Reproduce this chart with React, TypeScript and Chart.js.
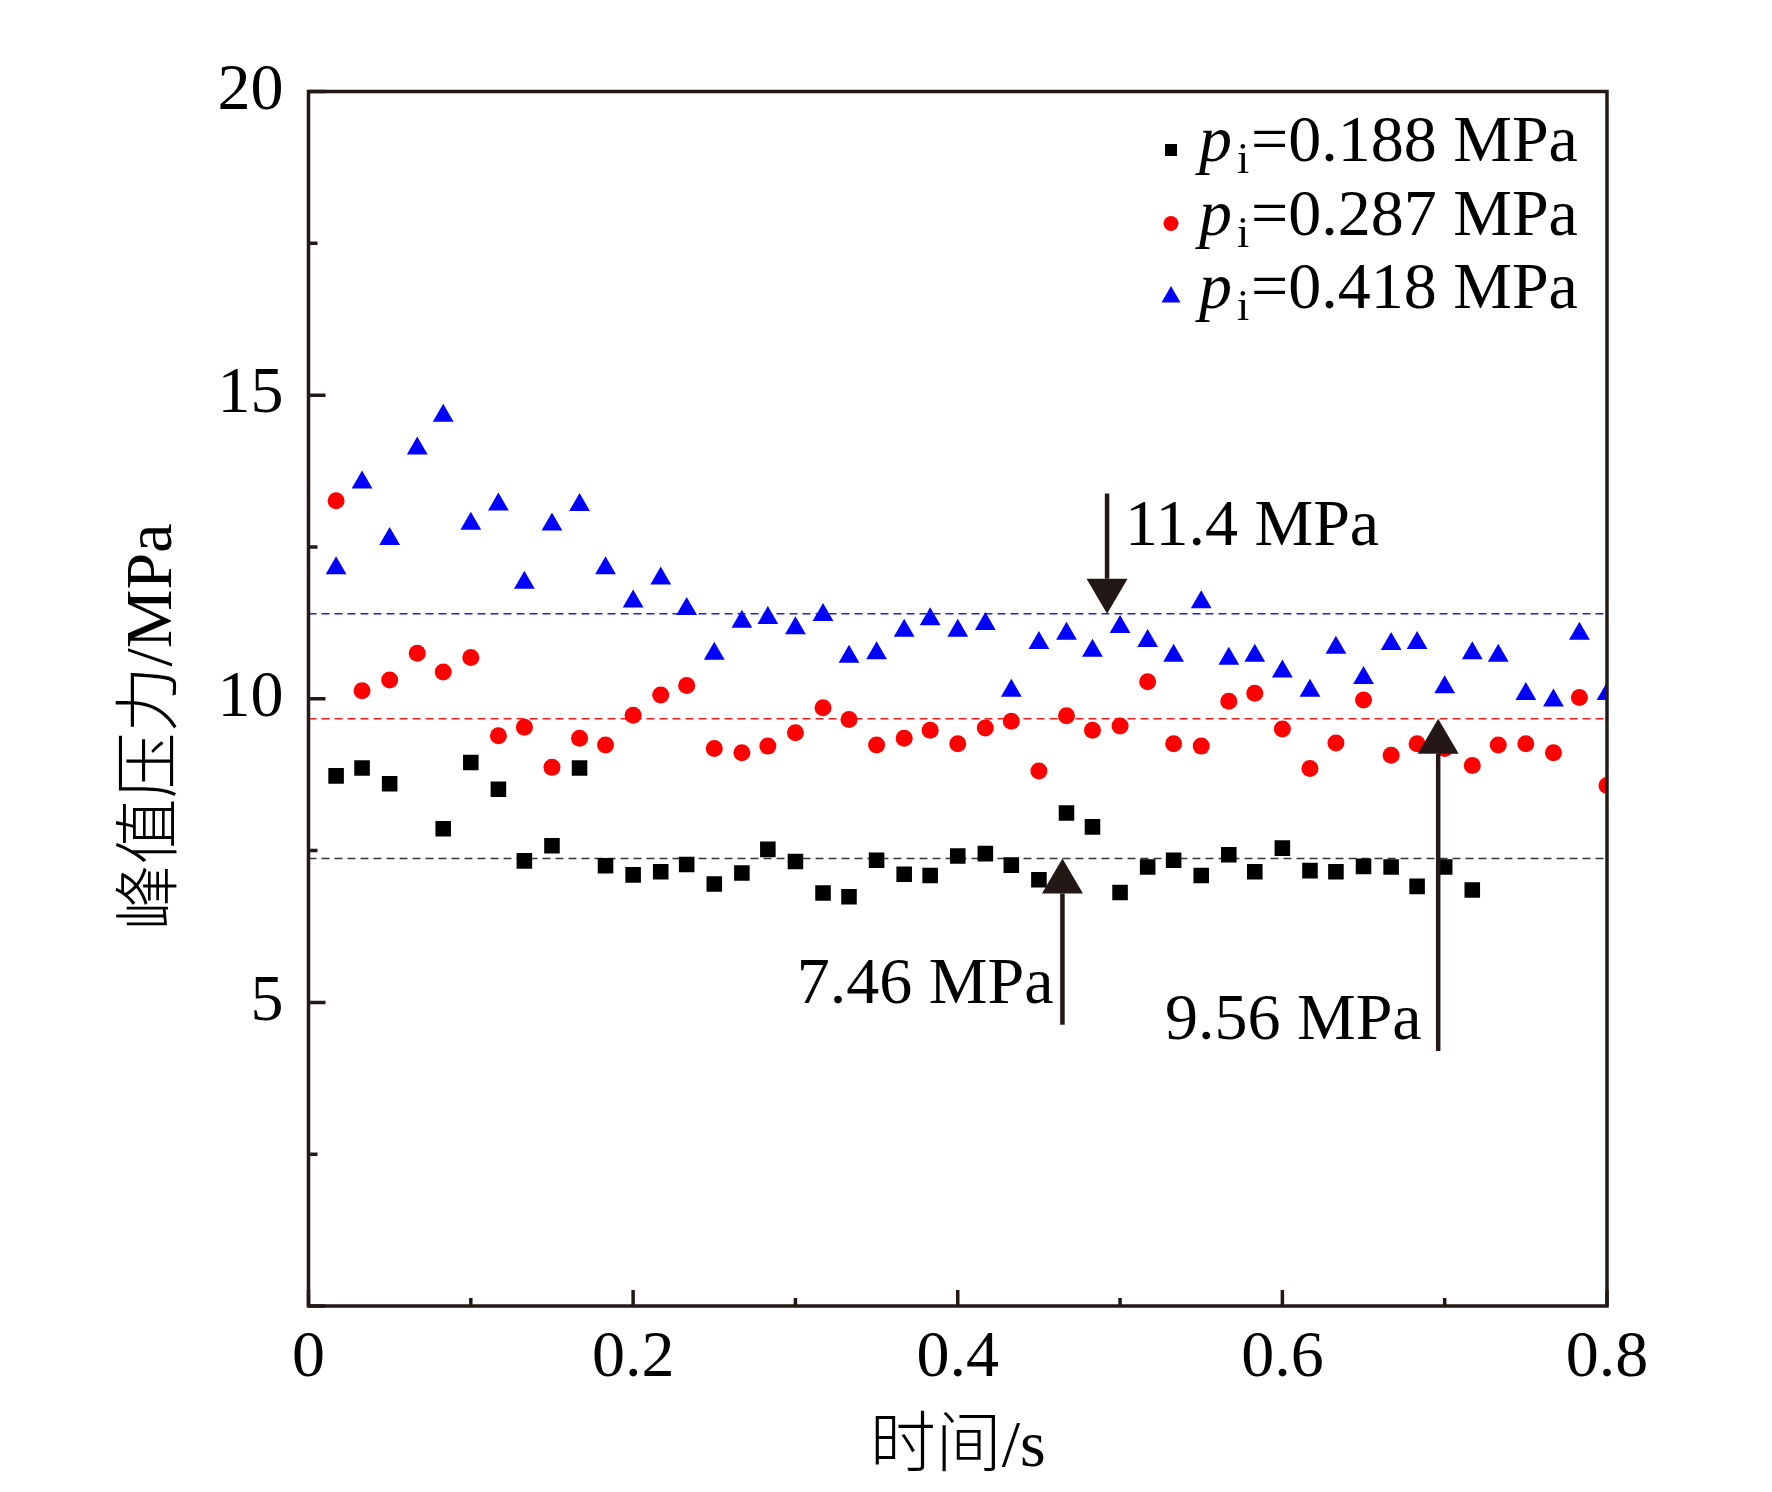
import React from "react";
import { Chart, ChartConfiguration, Plugin, registerables } from "chart.js";

Chart.register(...registerables);

const SERIF = '"Liberation Serif", "Noto Sans CJK SC", serif';
const INK = "#231815";

// sampling times, s
const times = [
  0.017, 0.033, 0.05, 0.067, 0.083, 0.1, 0.117, 0.133, 0.15, 0.167, 0.183, 0.2,
  0.217, 0.233, 0.25, 0.267, 0.283, 0.3, 0.317, 0.333, 0.35, 0.367, 0.383, 0.4,
  0.417, 0.433, 0.45, 0.467, 0.483, 0.5, 0.517, 0.533, 0.55, 0.567, 0.583, 0.6,
  0.617, 0.633, 0.65, 0.667, 0.683, 0.7, 0.717, 0.733, 0.75, 0.767, 0.783, 0.8,
];

// peak pressure, MPa (null = no sample)
const peak188 = [
  8.73, 8.86, 8.6, null, 7.86, 8.95, 8.51, 7.33, 7.58, 8.86, 7.25, 7.1,
  7.15, 7.27, 6.95, 7.13, 7.52, 7.32, 6.8, 6.74, 7.34, 7.11, 7.09, 7.41,
  7.45, 7.26, 7.02, 8.12, 7.89, 6.81, 7.23, 7.34, 7.09, 7.43, 7.15, 7.54,
  7.17, 7.15, 7.24, 7.23, 6.91, 7.23, 6.85, null, null, null, null, null,
];
const peak287 = [
  13.26, 10.13, 10.31, 10.75, 10.44, 10.68, 9.39, 9.53, 8.87, 9.35, 9.24, 9.73,
  10.06, 10.22, 9.18, 9.11, 9.22, 9.44, 9.85, 9.66, 9.24, 9.35, 9.48, 9.26,
  9.52, 9.63, 8.81, 9.72, 9.48, 9.55, 10.28, 9.26, 9.22, 9.96, 10.09, 9.5,
  8.85, 9.27, 9.98, 9.07, 9.26, 9.18, 8.9, 9.24, 9.26, 9.11, 10.02, 8.57,
];
const peak418 = [
  12.15, 13.56, 12.63, 14.12, 14.66, 12.88, 13.2, 11.91, 12.87, 13.19, 12.15, 11.6,
  11.98, 11.48, 10.74, 11.27, 11.33, 11.16, 11.38, 10.69, 10.75, 11.12, 11.31, 11.12,
  11.23, 10.13, 10.92, 11.07, 10.79, 11.18, 10.95, 10.71, 11.59, 10.66, 10.71, 10.45,
  10.13, 10.84, 10.34, 10.9, 10.92, 10.19, 10.75, 10.71, 10.08, 9.97, 11.07, 10.08,
];

// dashed reference levels as drawn (black, red, blue)
const meanLevels = [7.37, 9.67, 11.4];
const legendPressures = ["0.188", "0.287", "0.418"];
const arrowLabels = ["7.46 MPa", "9.56 MPa", "11.4 MPa"];

const toPoints = (ys: (number | null)[]) =>
  ys.flatMap((y, i) => (y === null ? [] : [{ x: times[i], y }]));
const levelLine = (v: number) => [
  { x: 0, y: v },
  { x: 0.8, y: v },
];

// arrows, in data units
const arrows = [
  { x: 0.4645, from: 4.63, to: 7.37, tx: 0.459, ty: 4.99, align: "right" },
  { x: 0.696, from: 4.2, to: 9.67, tx: 0.6858, ty: 4.4, align: "right" },
  { x: 0.492, from: 13.38, to: 11.4, tx: 0.503, ty: 12.53, align: "left" },
];

const decorPlugin: Plugin<"scatter"> = {
  id: "decor",
  afterDatasetsDraw(chart) {
    const { ctx, chartArea: a } = chart;
    const xs = chart.scales.x;
    const ys = chart.scales.y;
    ctx.save();
    ctx.strokeStyle = INK;
    ctx.fillStyle = INK;
    ctx.lineWidth = 3.5;
    ctx.strokeRect(a.left, a.top, a.right - a.left, a.bottom - a.top);

    // inward ticks
    ctx.beginPath();
    const yv = ys.ticks.map((t) => t.value);
    yv.forEach((v, i) => {
      const p = ys.getPixelForValue(v);
      ctx.moveTo(a.left, p);
      ctx.lineTo(a.left + 17, p);
      if (i > 0) {
        const m = ys.getPixelForValue((v + yv[i - 1]) / 2);
        ctx.moveTo(a.left, m);
        ctx.lineTo(a.left + 9, m);
      }
    });
    const xv = xs.ticks.map((t) => t.value);
    xv.forEach((v, i) => {
      const p = xs.getPixelForValue(v);
      ctx.moveTo(p, a.bottom);
      ctx.lineTo(p, a.bottom - 16);
      if (i > 0) {
        const m = xs.getPixelForValue((v + xv[i - 1]) / 2);
        ctx.moveTo(m, a.bottom);
        ctx.lineTo(m, a.bottom - 8);
      }
    });
    ctx.stroke();

    // arrows with labels
    arrows.forEach((ar, i) => {
      const px = xs.getPixelForValue(ar.x);
      const p0 = ys.getPixelForValue(ar.from);
      const p1 = ys.getPixelForValue(ar.to);
      const dir = Math.sign(p1 - p0);
      const base = p1 - dir * 35;
      ctx.lineWidth = 4.5;
      ctx.beginPath();
      ctx.moveTo(px, p0);
      ctx.lineTo(px, base);
      ctx.stroke();
      ctx.beginPath();
      ctx.moveTo(px, p1);
      ctx.lineTo(px - 20.5, base);
      ctx.lineTo(px + 20.5, base);
      ctx.closePath();
      ctx.fill();
      ctx.fillStyle = "#000";
      ctx.font = `66px ${SERIF}`;
      ctx.textAlign = ar.align as CanvasTextAlign;
      ctx.textBaseline = "alphabetic";
      ctx.fillText(arrowLabels[i], xs.getPixelForValue(ar.tx), ys.getPixelForValue(ar.ty));
      ctx.fillStyle = INK;
    });

    // legend
    const colors = ["#000000", "#ff0000", "#0000ff"];
    const baselines = [161, 234.5, 308];
    legendPressures.forEach((pv, i) => {
      const bl = baselines[i];
      const my = bl - 11;
      ctx.fillStyle = colors[i];
      ctx.beginPath();
      if (i === 0) ctx.rect(1171 - 6, my - 6, 12, 12);
      else if (i === 1) ctx.arc(1171, my, 7.5, 0, Math.PI * 2);
      else {
        ctx.moveTo(1171, my - 11);
        ctx.lineTo(1171 + 9.5, my + 5.5);
        ctx.lineTo(1171 - 9.5, my + 5.5);
        ctx.closePath();
      }
      ctx.fill();
      ctx.fillStyle = "#000";
      ctx.textAlign = "left";
      ctx.textBaseline = "alphabetic";
      ctx.font = `italic 66px ${SERIF}`;
      ctx.fillText("p", 1199, bl);
      ctx.font = `44px ${SERIF}`;
      ctx.fillText("i", 1237, bl + 12);
      ctx.font = `66px ${SERIF}`;
      ctx.fillText(`=${pv} MPa`, 1251, bl);
    });

    // axis titles
    ctx.fillStyle = "#000";
    ctx.font = `300 66px ${SERIF}`;
    ctx.textAlign = "center";
    ctx.textBaseline = "middle";
    ctx.fillText("时间/s", (a.left + a.right) / 2, 1449);
    ctx.translate(153.7, 727);
    ctx.rotate(-Math.PI / 2);
    ctx.fillText("峰值压力/MPa", 0, 0);
    ctx.restore();
  },
};

const App: React.FC = () => {
  const canvasRef = React.useRef<HTMLCanvasElement | null>(null);
  const chartRef = React.useRef<Chart<"scatter"> | null>(null);

  React.useEffect(() => {
    const canvas = canvasRef.current;
    if (!canvas) return;
    chartRef.current?.destroy();

    const marker = (data: (number | null)[], color: string, style: string, radius: number) => ({
      data: toPoints(data),
      pointStyle: style,
      pointRadius: radius,
      pointHoverRadius: radius,
      pointBackgroundColor: color,
      pointBorderWidth: 0,
      showLine: false,
      clip: 0,
      order: 0,
    });
    const dashed = (v: number, color: string) => ({
      data: levelLine(v),
      showLine: true,
      borderColor: color,
      borderWidth: 1.6,
      borderDash: [8, 5],
      pointRadius: 0,
      order: 1,
    });

    const config: ChartConfiguration<"scatter"> = {
      type: "scatter",
      data: {
        datasets: [
          marker(peak188, "#000000", "rect", 11),
          marker(peak287, "#ff0000", "circle", 8.5),
          marker(peak418, "#0000ff", "triangle", 12),
          dashed(meanLevels[0], "#333333"),
          dashed(meanLevels[1], "#ff1a1a"),
          dashed(meanLevels[2], "#2020e0"),
        ] as any,
      },
      options: {
        animation: false,
        responsive: true,
        maintainAspectRatio: false,
        devicePixelRatio: 1,
        layout: { padding: { left: 0, top: 91.5, right: 165, bottom: 0 } },
        plugins: {
          legend: { display: false },
          tooltip: { enabled: false },
        },
        scales: {
          x: {
            type: "linear",
            min: 0,
            max: 0.8,
            ticks: {
              stepSize: 0.2,
              padding: 13,
              color: "#000",
              font: { family: SERIF, size: 66 },
              callback: (v) => String(Math.round(Number(v) * 10) / 10),
            },
            grid: { display: false, drawTicks: false },
            border: { display: false },
            afterFit: (s) => {
              s.height = 186;
            },
          },
          y: {
            min: 0,
            max: 20,
            ticks: {
              stepSize: 5,
              padding: 25,
              color: "#000",
              font: { family: SERIF, size: 66 },
              callback: (v) => (Number(v) === 0 ? "" : String(v)),
            },
            grid: { display: false, drawTicks: false },
            border: { display: false },
            afterFit: (s) => {
              s.width = 308.5;
            },
          },
        },
      },
      plugins: [decorPlugin],
    };

    chartRef.current = new Chart(canvas, config);
    return () => {
      chartRef.current?.destroy();
    };
  }, []);

  return (
    <div
      style={{
        position: "fixed",
        left: 0,
        top: 0,
        width: 1772,
        height: 1492,
        background: "#fff",
      }}
    >
      <canvas ref={canvasRef} />
    </div>
  );
};

export default App;
